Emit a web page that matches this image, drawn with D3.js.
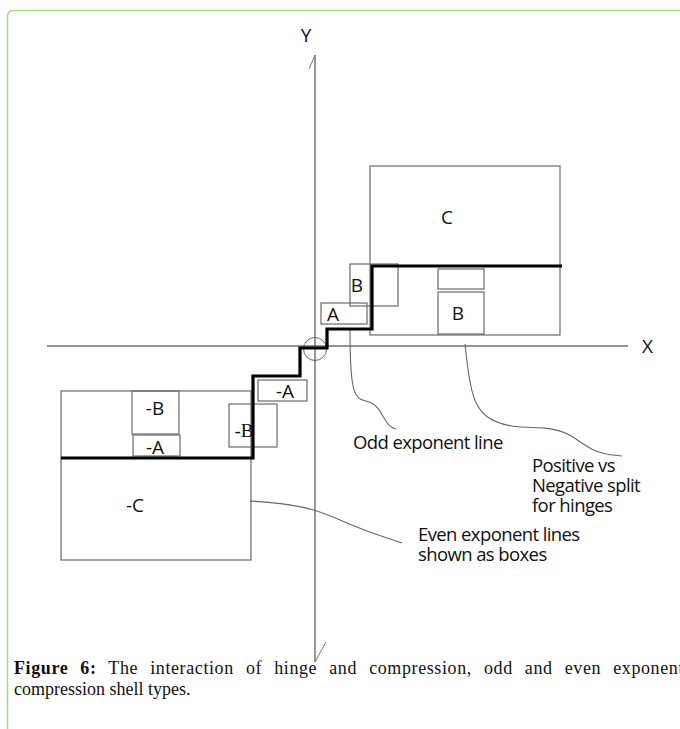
<!DOCTYPE html>
<html>
<head>
<meta charset="utf-8">
<script src="https://cdn.jsdelivr.net/npm/d3@7"></script>
<style>
  body { margin: 0; background: #fff; }
  svg { display: block; }
</style>
</head>
<body>
<svg id="fig"></svg>
<script>
// diagram coordinates, origin where the axes cross, y up
const axisXRange = [-268, 313];
const axisYRange = [-316, 291];

// odd exponent line (the thick staircase)
const oddLine = [[-254, -112], [-62, -112], [-62, -30], [-15, -30], [-15, -2],
                 [12, -2], [12, 17], [57, 17], [57, 80], [247, 80]];

// even exponent boxes: [x0, x1, yTop, yBottom, label]
const boxes = [
  [55, 245, 180, 11, "C"],
  [123, 169, 77, 57, ""],
  [123, 169, 54, 12, "B"],
  [35, 83, 82, 40, "B"],
  [6, 52, 43, 22, "A"],
  [-57, -8, -34, -55, "-A"],
  [-86, -38, -58, -101, "-B"],
  [-254, -64, -45, -214, "-C"],
  [-183, -136, -45, -88, "-B"],
  [-182, -135, -89, -110, "-A"]
];
const boxLabelPos = [[132, 129], null, [143, 33], [42, 61], [18, 32],
                     [-30, -45], [-71, -84], [-180, -159], [-160, -62], [-160, -101]];

// callout leaders
const oddLeader = [[35, 16], [35, 1], [36, -29], [39, -47], [45, -54], [56, -56],
                   [63, -61], [70, -74], [75, -81], [81, -83]];
const hingeLeader = [[150, 2], [152, -17], [157, -51], [168, -71], [195, -82],
                     [232, -81], [255, -87], [278, -107], [307, -110]];
const evenLeader = [[-65, -155], [-35, -157], [-1, -163], [25, -174], [48, -184], [87, -197]];

const notes = [
  { pos: [38, -103], lines: ["Odd exponent line"] },
  { pos: [217, -126], lines: ["Positive vs", "Negative split", "for hinges"] },
  { pos: [103, -195], lines: ["Even exponent lines", "shown as boxes"] }
];

const captionBold = "Figure 6:";
const captionLine1 = " The interaction of hinge and compression, odd and even exponent";
const captionLine2 = "compression shell types.";

const width = 680, height = 729;
const svg = d3.select("#fig").attr("width", width).attr("height", height);

// frame
svg.append("path")
  .attr("d", "M7.5,740 L7.5,17 Q7.5,10.5 14,10.5 L700,10.5")
  .attr("fill", "none")
  .attr("stroke", "#a6da7c")
  .attr("stroke-width", 1.5);

const x = d3.scaleLinear().domain([0, 100]).range([315, 415]);
const y = d3.scaleLinear().domain([0, 100]).range([346, 246]);

const line = d3.line().x(d => x(d[0])).y(d => y(d[1]));
const curve = d3.line().x(d => x(d[0])).y(d => y(d[1])).curve(d3.curveBasis);

// boxes
svg.append("g").selectAll("rect")
  .data(boxes)
  .join("rect")
  .attr("x", d => x(d[0]))
  .attr("y", d => y(d[2]))
  .attr("width", d => x(d[1]) - x(d[0]))
  .attr("height", d => y(d[3]) - y(d[2]))
  .attr("fill", "none")
  .attr("stroke", "#6a6a6a")
  .attr("stroke-width", 1.2);

// labels in boxes
svg.append("g").selectAll("text")
  .data(boxes.map((d, i) => ({ text: d[4], pos: boxLabelPos[i], serif: i === 6 })).filter(d => d.pos))
  .join("text")
  .attr("x", d => x(d.pos[0]))
  .attr("y", d => y(d.pos[1]))
  .attr("dy", "0.36em")
  .attr("text-anchor", "middle")
  .attr("font-family", d => d.serif ? "Liberation Serif" : "Open Sans")
  .attr("font-size", 19)
  .attr("fill", "#111")
  .text(d => d.text);

// axes
svg.append("line")
  .attr("x1", x(axisXRange[0])).attr("x2", x(axisXRange[1]))
  .attr("y1", y(0)).attr("y2", y(0))
  .attr("stroke", "#6e6e6e").attr("stroke-width", 1.6);
svg.append("line")
  .attr("x1", x(0)).attr("x2", x(0))
  .attr("y1", y(axisYRange[1])).attr("y2", y(axisYRange[0]))
  .attr("stroke", "#444").attr("stroke-width", 1.1);
// little hand-drawn ticks at the ends of the Y axis
svg.append("path").attr("d", line([[0, axisYRange[1]], [-6, axisYRange[1] - 14]]))
  .attr("stroke", "#777").attr("fill", "none").attr("stroke-width", 1);
svg.append("path").attr("d", line([[0, axisYRange[0]], [11, axisYRange[0] + 20]]))
  .attr("stroke", "#777").attr("fill", "none").attr("stroke-width", 1);

svg.append("text").attr("x", x(axisXRange[1] + 14)).attr("y", y(0)).attr("dy", "0.36em")
  .attr("font-family", "Open Sans").attr("font-size", 19).attr("fill", "#111").text("X");
svg.append("text").attr("x", x(-9)).attr("y", y(axisYRange[1] + 20)).attr("dy", "0.36em")
  .attr("text-anchor", "middle")
  .attr("font-family", "Open Sans").attr("font-size", 19).attr("fill", "#111").text("Y");

// origin circle
svg.append("circle").attr("cx", x(0)).attr("cy", y(-3)).attr("r", 11.5)
  .attr("fill", "none").attr("stroke", "#666").attr("stroke-width", 1);

// leaders
[oddLeader, hingeLeader, evenLeader].forEach(pts => {
  svg.append("path").attr("d", curve(pts))
    .attr("fill", "none").attr("stroke", "#666").attr("stroke-width", 1.1);
});

// odd exponent staircase
svg.append("path").attr("d", line(oddLine))
  .attr("fill", "none").attr("stroke", "#000").attr("stroke-width", 3.2)
  .attr("stroke-linejoin", "miter");

// notes, one text per line
notes.forEach(n => {
  n.lines.forEach((s, i) => {
    svg.append("text")
      .attr("x", x(n.pos[0]))
      .attr("y", y(n.pos[1]) + i * 20)
      .attr("font-family", "Open Sans")
      .attr("font-size", 18.5)
      .attr("letter-spacing", -0.6)
      .attr("fill", "#111")
      .text(s);
  });
});

// caption
const cap = svg.append("text")
  .attr("x", 14).attr("y", 674)
  .attr("font-family", "Liberation Serif")
  .attr("font-size", 18)
  .attr("letter-spacing", 0.6)
  .attr("fill", "#111");
cap.append("tspan").attr("font-weight", "bold").text(captionBold);
cap.append("tspan").text(captionLine1);
// stretch line one like justified text
const natural = cap.node().getComputedTextLength();
const gaps = (captionBold + captionLine1).split(" ").length - 1;
cap.attr("word-spacing", Math.max(0, (684 - 14 - natural) / gaps));

svg.append("text")
  .attr("x", 14).attr("y", 695)
  .attr("font-family", "Liberation Serif")
  .attr("font-size", 18)
  .attr("fill", "#111")
  .text(captionLine2);
</script>
</body>
</html>
